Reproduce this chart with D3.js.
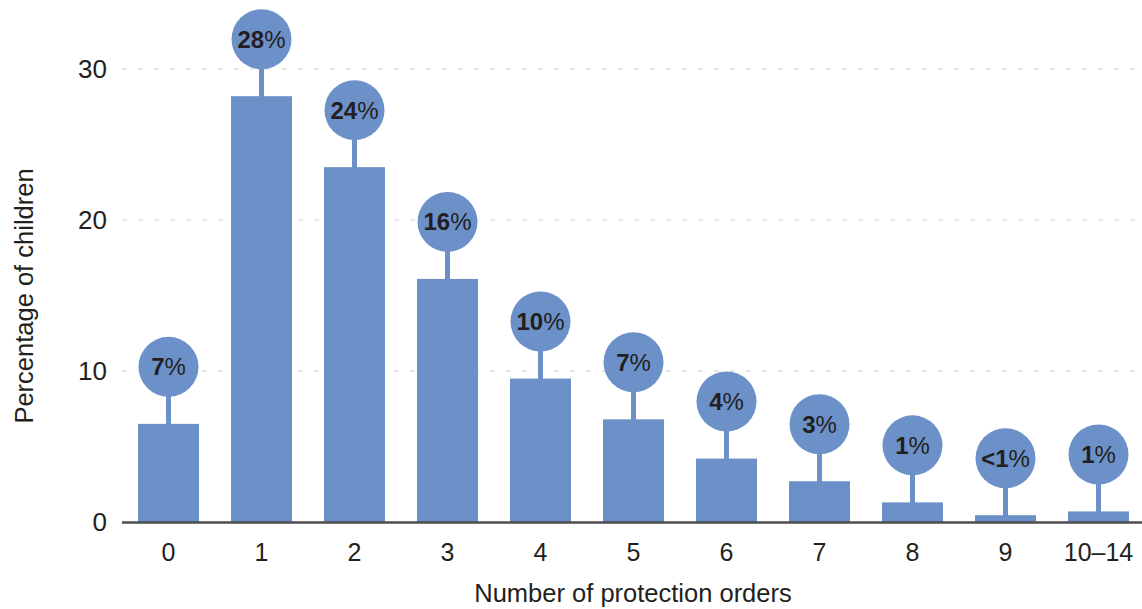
<!DOCTYPE html>
<html>
<head>
<meta charset="utf-8">
<script src="https://cdn.jsdelivr.net/npm/d3@7"></script>
<style>
  html, body { margin: 0; padding: 0; background: #fff; }
  svg { display: block; }
</style>
</head>
<body>
<svg id="chart" width="1142" height="609"></svg>
<script>
// Share of children by number of protection orders
const categories = ["0", "1", "2", "3", "4", "5", "6", "7", "8", "9", "10\u201314"];
const values = [6.5, 28.2, 23.5, 16.1, 9.5, 6.8, 4.2, 2.7, 1.3, 0.45, 0.7];
const yTicks = [0, 10, 20, 30];

const barColor = "#6c91c9";
const textColor = "#231f20";
const font = "'Liberation Sans', Arial, sans-serif";

const svg = d3.select("#chart");

const x = d3.scaleBand()
  .domain(categories)
  .range([122, 1145])
  .paddingInner(0.344)
  .paddingOuter(0.172);

const y = d3.scaleLinear()
  .domain([0, 30])
  .range([522, 69]);

// dashed gridlines
svg.append("g")
  .selectAll("line")
  .data(yTicks.filter(d => d > 0))
  .join("line")
  .attr("x1", 122).attr("x2", 1142)
  .attr("y1", d => y(d)).attr("y2", d => y(d))
  .attr("stroke", "#cfcfcf")
  .attr("stroke-width", 1.2)
  .attr("stroke-dasharray", "5 11");

// y axis labels
const yAxis = svg.append("g")
  .attr("transform", "translate(107,0)")
  .call(d3.axisLeft(y).tickValues(yTicks).tickSize(0).tickPadding(0));
yAxis.select(".domain").remove();
yAxis.selectAll("text")
  .attr("font-family", font)
  .attr("font-size", 26)
  .attr("fill", textColor)
  .attr("dy", "0.33em");

// bars
svg.append("g")
  .selectAll("rect")
  .data(values)
  .join("rect")
  .attr("x", (d, i) => x(categories[i]))
  .attr("width", x.bandwidth())
  .attr("y", d => y(d))
  .attr("height", d => y(0) - y(d))
  .attr("fill", barColor);

// value markers: stem + circle + label
const r = 30;
const stemLen = 27;
const fmt = v => v < 0.5 ? "<1" : String(Math.round(v));

const markers = svg.append("g")
  .selectAll("g")
  .data(values)
  .join("g")
  .attr("transform", (d, i) =>
    `translate(${x(categories[i]) + x.bandwidth() / 2},${y(d) - stemLen - r})`);

markers.append("line")
  .attr("x1", 0).attr("x2", 0)
  .attr("y1", r - 2).attr("y2", r + stemLen + 1)
  .attr("stroke", barColor)
  .attr("stroke-width", 5);

markers.append("circle")
  .attr("r", r)
  .attr("fill", barColor);

const lbl = markers.append("text")
  .attr("text-anchor", "middle")
  .attr("y", 8.5)
  .attr("font-family", font)
  .attr("font-size", 24)
  .attr("fill", textColor);
lbl.append("tspan").attr("font-weight", "bold").text(d => fmt(d));
lbl.append("tspan").attr("font-weight", "normal").text("%");

// baseline
svg.append("line")
  .attr("x1", 122).attr("x2", 1142)
  .attr("y1", y(0) + 0.5).attr("y2", y(0) + 0.5)
  .attr("stroke", "#4d4d4d")
  .attr("stroke-width", 2.4);

// x axis labels
const xAxis = svg.append("g")
  .attr("transform", `translate(0,${y(0)})`)
  .call(d3.axisBottom(x).tickSize(0).tickPadding(21));
xAxis.select(".domain").remove();
xAxis.selectAll("text")
  .attr("font-family", font)
  .attr("font-size", 25)
  .attr("fill", textColor);

// axis titles
svg.append("text")
  .attr("x", 633).attr("y", 602)
  .attr("text-anchor", "middle")
  .attr("font-family", font)
  .attr("font-size", 25.5)
  .attr("fill", textColor)
  .text("Number of protection orders");

svg.append("text")
  .attr("transform", "translate(33,296) rotate(-90)")
  .attr("text-anchor", "middle")
  .attr("font-family", font)
  .attr("font-size", 25.5)
  .attr("fill", textColor)
  .text("Percentage of children");
</script>
</body>
</html>
